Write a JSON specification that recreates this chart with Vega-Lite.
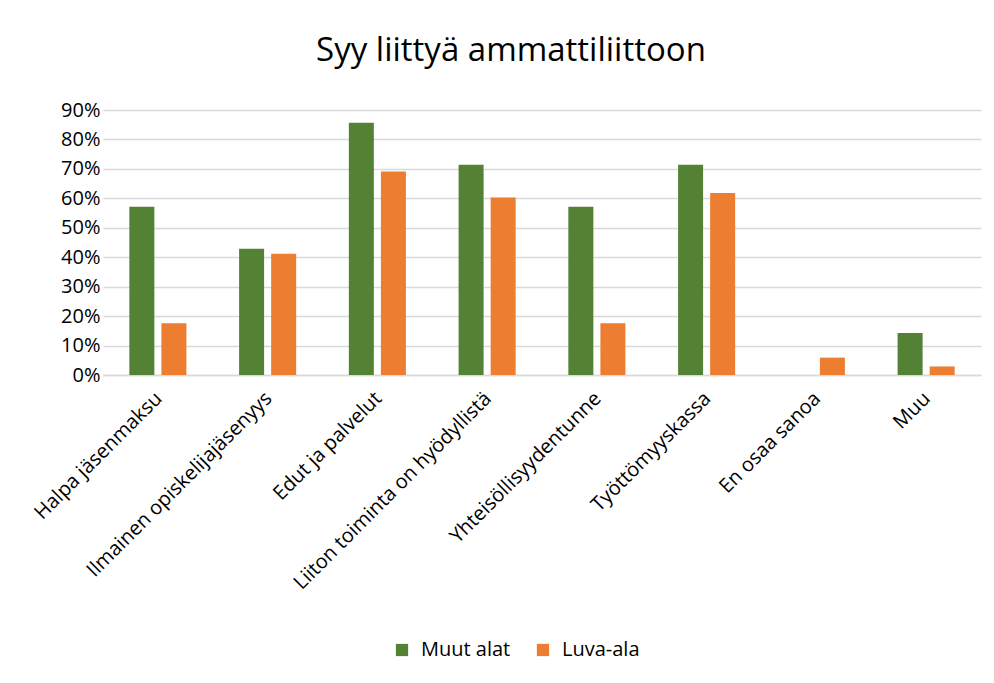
{
  "$schema": "https://vega.github.io/schema/vega-lite/v6.json",
  "autosize": "none",
  "width": 878,
  "height": 265,
  "padding": {"left": 103, "top": 110, "right": 13, "bottom": 308},
  "background": "white",
  "title": {"text": "Syy liittyä ammattiliittoon", "font": "Open Sans", "fontSize": 33, "fontWeight": "normal", "color": "#000000", "anchor": "middle", "dx": -31, "offset": 32},
  "data": {"values": [
    {"syy": "Halpa jäsenmaksu", "ryhma": "Muut alat", "osuus": 0.571},
    {"syy": "Halpa jäsenmaksu", "ryhma": "Luva-ala", "osuus": 0.176},
    {"syy": "Ilmainen opiskelijajäsenyys", "ryhma": "Muut alat", "osuus": 0.429},
    {"syy": "Ilmainen opiskelijajäsenyys", "ryhma": "Luva-ala", "osuus": 0.412},
    {"syy": "Edut ja palvelut", "ryhma": "Muut alat", "osuus": 0.857},
    {"syy": "Edut ja palvelut", "ryhma": "Luva-ala", "osuus": 0.691},
    {"syy": "Liiton toiminta on hyödyllistä", "ryhma": "Muut alat", "osuus": 0.714},
    {"syy": "Liiton toiminta on hyödyllistä", "ryhma": "Luva-ala", "osuus": 0.603},
    {"syy": "Yhteisöllisyydentunne", "ryhma": "Muut alat", "osuus": 0.571},
    {"syy": "Yhteisöllisyydentunne", "ryhma": "Luva-ala", "osuus": 0.176},
    {"syy": "Työttömyyskassa", "ryhma": "Muut alat", "osuus": 0.714},
    {"syy": "Työttömyyskassa", "ryhma": "Luva-ala", "osuus": 0.618},
    {"syy": "En osaa sanoa", "ryhma": "Muut alat", "osuus": 0.0},
    {"syy": "En osaa sanoa", "ryhma": "Luva-ala", "osuus": 0.059},
    {"syy": "Muu", "ryhma": "Muut alat", "osuus": 0.143},
    {"syy": "Muu", "ryhma": "Luva-ala", "osuus": 0.029}
  ]},
  "mark": {"type": "bar"},
  "encoding": {
    "x": {
      "field": "syy", "type": "nominal", "sort": null, "title": null,
      "scale": {"paddingInner": 0.48, "paddingOuter": 0.24},
      "axis": {"labelAngle": -45, "labelFont": "Open Sans", "labelFontSize": 20, "labelColor": "#000000", "ticks": false, "domainColor": "#D9D9D9", "domainWidth": 1.5, "labelPadding": 13, "labelOffset": -6, "labelLimit": 400}
    },
    "xOffset": {"field": "ryhma", "type": "nominal", "sort": ["Muut alat", "Luva-ala"], "scale": {"paddingInner": 0.22}},
    "y": {
      "field": "osuus", "type": "quantitative", "title": null,
      "scale": {"domain": [0, 0.9], "nice": false},
      "axis": {"values": [0, 0.1, 0.2, 0.3, 0.4, 0.5, 0.6, 0.7, 0.8, 0.9], "format": ".0%", "labelFont": "Open Sans", "labelFontSize": 20, "labelColor": "#000000", "domain": false, "ticks": false, "gridColor": "#D9D9D9", "gridWidth": 1.5, "labelPadding": 3}
    },
    "color": {
      "field": "ryhma", "type": "nominal", "sort": ["Muut alat", "Luva-ala"],
      "scale": {"domain": ["Muut alat", "Luva-ala"], "range": ["#548235", "#ED7D31"]},
      "legend": {"title": null, "orient": "none", "direction": "horizontal", "legendX": 289, "legendY": 530, "symbolType": "square", "symbolSize": 150, "symbolStrokeWidth": 0, "labelFont": "Open Sans", "labelFontSize": 20, "labelColor": "#000000", "labelOffset": 9, "columnPadding": 22}
    }
  },
  "config": {"view": {"stroke": null}}
}
